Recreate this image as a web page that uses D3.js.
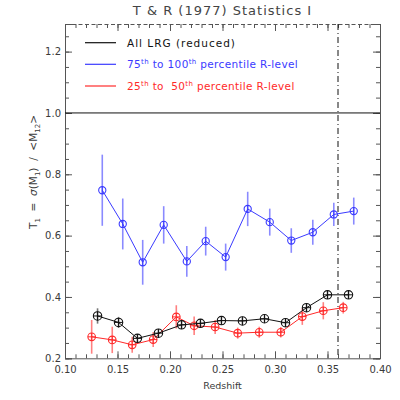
<!DOCTYPE html>
<meta charset="utf-8">
<style>
body { margin: 0; background: #fff; }
svg text { font-family: "DejaVu Sans", "Liberation Sans", sans-serif; fill: #3a3a3a; }
.axis path, .axis line { stroke: #555; }
.axis text { font-size: 10px; fill: #3a3a3a; font-family: "DejaVu Sans", sans-serif; }
</style>
<script src="https://d3js.org/d3.v7.min.js"></script>
<div id="chart"></div>
<script>

// --- data ---
var zAll  = [0.131, 0.151, 0.169, 0.189, 0.211, 0.229, 0.249, 0.269, 0.290, 0.310, 0.330, 0.350, 0.370];
var tAll  = [0.338, 0.317, 0.265, 0.282, 0.309, 0.314, 0.323, 0.322, 0.329, 0.316, 0.365, 0.407, 0.407];
var eAll  = [0.025, 0.018, 0.013, 0.012, 0.012, 0.010, 0.010, 0.010, 0.010, 0.010, 0.012, 0.012, 0.012];

var zHigh = [0.1355, 0.155, 0.174, 0.194, 0.216, 0.234, 0.253, 0.274, 0.295, 0.3155, 0.336, 0.356, 0.375];
var tHigh = [0.748, 0.638, 0.513, 0.635, 0.516, 0.582, 0.530, 0.687, 0.644, 0.584, 0.611, 0.669, 0.680];
var eHigh = [0.116, 0.083, 0.073, 0.061, 0.050, 0.047, 0.044, 0.056, 0.044, 0.040, 0.041, 0.038, 0.044];

var zLow  = [0.1254, 0.145, 0.164, 0.184, 0.206, 0.223, 0.243, 0.2645, 0.285, 0.3055, 0.326, 0.346, 0.365];
var tLow  = [0.270, 0.260, 0.244, 0.261, 0.335, 0.306, 0.302, 0.282, 0.285, 0.285, 0.336, 0.355, 0.365];
var eLow  = [0.055, 0.043, 0.026, 0.024, 0.038, 0.030, 0.023, 0.018, 0.018, 0.017, 0.027, 0.028, 0.019];

var xTicks = [0.10, 0.15, 0.20, 0.25, 0.30, 0.35, 0.40];
var yTicks = [0.2, 0.4, 0.6, 0.8, 1.0, 1.2];
var zCut = 0.36;   // dash-dot line
var refLine = 1.0; // solid line

var W = 400, H = 400;
var m = {left: 65, right: 380, top: 24, bottom: 358.3};

var svg = d3.select("#chart").append("svg")
  .attr("width", W).attr("height", H);

var x = d3.scaleLinear().domain([0.10, 0.40]).range([m.left, m.right]);
var y = d3.scaleLinear().domain([0.2, 1.29]).range([m.bottom, m.top]);

var xMinor = d3.range(0.10, 0.4001, 0.01);
var yMinor = d3.range(0.2, 1.2801, 0.05);

// bottom axis
svg.append("g").attr("class", "axis")
  .attr("transform", "translate(0," + m.bottom + ")")
  .call(d3.axisBottom(x).tickValues(xMinor).tickSize(-4).tickFormat(""))
  .call(function(g) { g.select(".domain").remove(); });
svg.append("g").attr("class", "axis")
  .attr("transform", "translate(0," + m.bottom + ")")
  .call(d3.axisBottom(x).tickValues(xTicks).tickSize(-7).tickPadding(8)
        .tickFormat(d3.format(".2f")));

// top axis (dashed)
svg.append("g").attr("class", "axis")
  .attr("transform", "translate(0," + m.top + ")")
  .call(d3.axisTop(x).tickValues(xMinor).tickSize(-4).tickFormat(""))
  .call(function(g) { g.select(".domain").remove(); });
svg.append("g").attr("class", "axis")
  .attr("transform", "translate(0," + m.top + ")")
  .call(d3.axisTop(x).tickValues(xTicks).tickSize(-7).tickFormat(""))
  .call(function(g) { g.select(".domain").attr("stroke-dasharray", "4,2.5"); });

// left axis
svg.append("g").attr("class", "axis")
  .attr("transform", "translate(" + m.left + ",0)")
  .call(d3.axisLeft(y).tickValues(yMinor).tickSize(-4).tickFormat(""))
  .call(function(g) { g.select(".domain").remove(); });
svg.append("g").attr("class", "axis")
  .attr("transform", "translate(" + m.left + ",0)")
  .call(d3.axisLeft(y).tickValues(yTicks).tickSize(-7).tickPadding(4)
        .tickFormat(d3.format(".1f")));

// right axis
svg.append("g").attr("class", "axis")
  .attr("transform", "translate(" + m.right + ",0)")
  .call(d3.axisRight(y).tickValues(yMinor).tickSize(-4).tickFormat(""))
  .call(function(g) { g.select(".domain").remove(); });
svg.append("g").attr("class", "axis")
  .attr("transform", "translate(" + m.right + ",0)")
  .call(d3.axisRight(y).tickValues(yTicks).tickSize(-7).tickFormat(""));

// reference lines
svg.append("line")
  .attr("x1", m.left).attr("x2", m.right)
  .attr("y1", y(refLine)).attr("y2", y(refLine))
  .attr("stroke", "#111").attr("stroke-width", 1);
svg.append("line")
  .attr("x1", x(zCut)).attr("x2", x(zCut))
  .attr("y1", m.top).attr("y2", m.bottom)
  .attr("stroke", "#111").attr("stroke-width", 1)
  .attr("stroke-dasharray", "6,3,1,3");

// series
function drawSeries(zs, ts, es, col, barCol, r, cross) {
  var data = zs.map(function(z, i) { return {z: z, t: ts[i], e: es[i]}; });
  var g = svg.append("g");
  g.selectAll(".err").data(data).enter().append("line")
    .attr("x1", function(d) { return x(d.z); })
    .attr("x2", function(d) { return x(d.z); })
    .attr("y1", function(d) { return y(d.t - d.e); })
    .attr("y2", function(d) { return y(d.t + d.e); })
    .attr("stroke", barCol).attr("stroke-width", 1.6);
  g.append("path").datum(data)
    .attr("fill", "none").attr("stroke", col).attr("stroke-width", 1)
    .attr("d", d3.line().x(function(d) { return x(d.z); }).y(function(d) { return y(d.t); }));
  g.selectAll("circle").data(data).enter().append("circle")
    .attr("cx", function(d) { return x(d.z); })
    .attr("cy", function(d) { return y(d.t); })
    .attr("r", r).attr("fill", "none").attr("stroke", col).attr("stroke-width", 1.1);
  g.selectAll(".cv").data(data).enter().append("line")
    .attr("x1", function(d) { return x(d.z); })
    .attr("x2", function(d) { return x(d.z); })
    .attr("y1", function(d) { return y(d.t) - r; })
    .attr("y2", function(d) { return y(d.t) + r; })
    .attr("stroke", col).attr("stroke-width", 1);
  if (cross) {
    g.selectAll(".ch").data(data).enter().append("line")
      .attr("x1", function(d) { return x(d.z) - r; })
      .attr("x2", function(d) { return x(d.z) + r; })
      .attr("y1", function(d) { return y(d.t); })
      .attr("y2", function(d) { return y(d.t); })
      .attr("stroke", col).attr("stroke-width", 1);
  }
}

drawSeries(zHigh, tHigh, eHigh, "#3a3aff", "#8a8aff", 3.6, false);
drawSeries(zLow, tLow, eLow, "#ff2a2a", "#ff8080", 3.8, true);
drawSeries(zAll, tAll, eAll, "#111", "#777", 4.2, true);

// title and axis labels
svg.append("text")
  .attr("x", (m.left + m.right) / 2).attr("y", 15)
  .attr("text-anchor", "middle").style("font-size", "13px")
  .style("letter-spacing", "1px").style("fill", "#444")
  .text("T & R (1977) Statistics I");

svg.append("text")
  .attr("x", (m.left + m.right) / 2).attr("y", 389)
  .attr("text-anchor", "middle").style("font-size", "9.5px")
  .text("Redshift");

var yl = svg.append("text")
  .attr("transform", "translate(37,172) rotate(-90)")
  .attr("text-anchor", "middle").style("font-size", "10.5px")
  .style("white-space", "pre");
yl.append("tspan").text("T");
yl.append("tspan").attr("dy", 3).style("font-size", "7px").text("1");
yl.append("tspan").attr("dy", -3).text("  =  ");
yl.append("tspan").style("font-style", "italic").text("σ");
yl.append("tspan").text("(M");
yl.append("tspan").attr("dy", 3).style("font-size", "7px").text("1");
yl.append("tspan").attr("dy", -3).text(")  /  <M");
yl.append("tspan").attr("dy", 3).style("font-size", "7px").text("12");
yl.append("tspan").attr("dy", -3).text(">");

// legend
var legend = [
  {col: "#111", parts: [["All LRG (reduced)", false]]},
  {col: "#3a3aff", parts: [["75", false], ["th", true], [" to 100", false], ["th", true], [" percentile R-level", false]]},
  {col: "#ff2a2a", parts: [["25", false], ["th", true], [" to  50", false], ["th", true], [" percentile R-level", false]]}
];
var legY = [42.7, 64.3, 86];
legend.forEach(function(l, i) {
  svg.append("line")
    .attr("x1", 85).attr("x2", 116).attr("y1", legY[i]).attr("y2", legY[i])
    .attr("stroke", l.col).attr("stroke-width", 1.2);
  var t = svg.append("text")
    .attr("x", 127).attr("y", legY[i] + 4)
    .style("font-size", "10.5px").style("fill", l.col)
    .style("letter-spacing", i === 0 ? "1px" : "0.35px")
    .style("white-space", "pre");
  var up = false;
  l.parts.forEach(function(p) {
    var s = t.append("tspan").style("fill", l.col).text(p[0]);
    if (p[1] && !up) { s.attr("dy", -4).style("font-size", "7px"); up = true; }
    else if (!p[1] && up) { s.attr("dy", 4); up = false; }
  });
});

</script>
